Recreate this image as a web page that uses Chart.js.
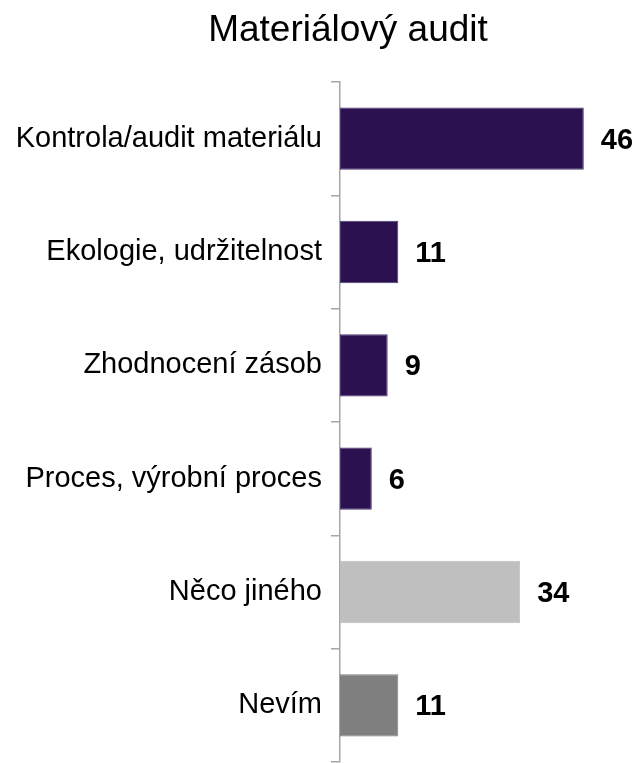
<!DOCTYPE html>
<html>
<head>
<meta charset="utf-8">
<script src="https://cdn.jsdelivr.net/npm/chart.js@4/dist/chart.umd.min.js"></script>
<style>
html,body{margin:0;padding:0;background:#fff;overflow:hidden;}
#wrap{width:641px;height:763px;position:relative;}
</style>
</head>
<body>
<div id="wrap"><canvas id="c" width="641" height="763"></canvas></div>
<script>
const titleText = "Materiálový audit";
const categories = ["Kontrola/audit materiálu","Ekologie, udržitelnost","Zhodnocení zásob","Proces, výrobní proces","Něco jiného","Nevím"];
const values = [46, 11, 9, 6, 34, 11];
const barColors = ["#2B1150","#2B1150","#2B1150","#2B1150","#BFBFBF","#7F7F7F"];
const borderColors = ["#4B3A6E","#4B3A6E","#4B3A6E","#4B3A6E","#BFBFBF","#7F7F7F"];

const FONT = "'Liberation Sans', Arial, sans-serif";

const extras = {
  id: 'extras',
  afterDraw(chart) {
    const ctx = chart.ctx;
    ctx.save();
    ctx.font = "37px " + FONT;
    ctx.fillStyle = "#000";
    ctx.textAlign = "center";
    ctx.textBaseline = "alphabetic";
    ctx.fillText(titleText, 348, 41);
    const meta = chart.getDatasetMeta(0);
    ctx.font = "bold 29px " + FONT;
    ctx.textAlign = "left";
    ctx.textBaseline = "middle";
    meta.data.forEach((bar, i) => {
      ctx.fillText(String(values[i]), bar.x + 17, bar.y + 2);
    });
    ctx.restore();
  }
};

new Chart(document.getElementById('c'), {
  type: 'bar',
  data: {
    labels: categories,
    datasets: [{
      data: values,
      backgroundColor: barColors,
      borderColor: borderColors,
      borderWidth: 1,
      borderSkipped: false,
      categoryPercentage: 0.55,
      barPercentage: 1.0
    }]
  },
  options: {
    indexAxis: 'y',
    responsive: false,
    animation: false,
    layout: { padding: { top: 82, right: 36, bottom: 1, left: 0 } },
    plugins: { legend: { display: false }, title: { display: false }, tooltip: { enabled: false } },
    scales: {
      x: { display: false, min: 0, max: 50 },
      y: {
        afterFit(scale) { scale.width = 340; scale.paddingTop = 0; scale.paddingBottom = 0; },
        border: { display: true, color: '#A6A6A6', width: 1.5 },
        grid: { display: true, drawOnChartArea: false, drawTicks: true, tickLength: 9, color: '#A6A6A6', lineWidth: 1.5, offset: true },
        ticks: { color: '#000', padding: 9, font: { family: FONT, size: 29 } }
      }
    }
  },
  plugins: [extras]
});
</script>
</body>
</html>
